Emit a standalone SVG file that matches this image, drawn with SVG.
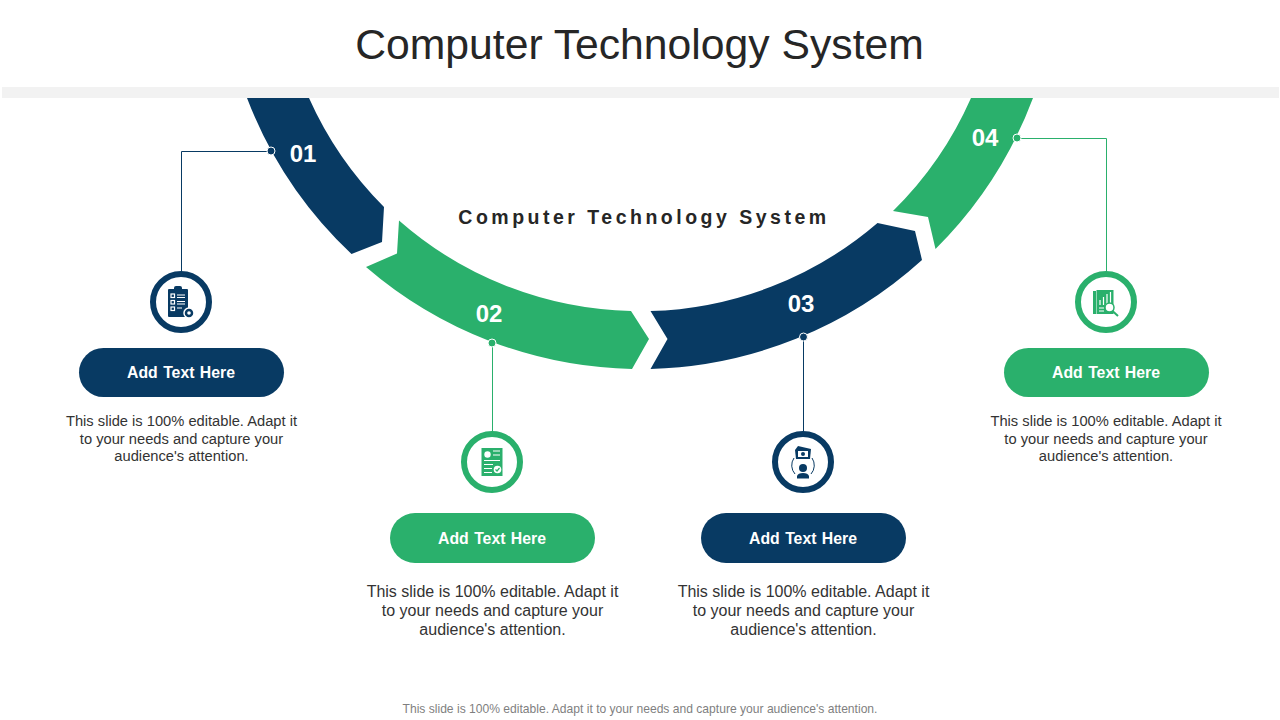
<svg xmlns="http://www.w3.org/2000/svg" width="1280" height="720" viewBox="0 0 1280 720">
<style>
text{font-family:"Liberation Sans",Arial,sans-serif}
.navy{fill:#083a63}.green{fill:#2ab06c}
.title{font-size:42.7px;fill:#262626;text-anchor:middle}
.sub{font-size:19.5px;font-weight:700;fill:#262626;letter-spacing:3.5px;text-anchor:middle}
.num{font-size:24px;font-weight:700;fill:#fff;text-anchor:middle}
.btn{font-size:15.8px;font-weight:700;fill:#fff;text-anchor:middle;word-spacing:1px}
.body{font-size:16px;fill:#333;text-anchor:middle}
.small{font-size:14.7px}
.foot{font-size:12.1px;fill:#7f7f7f;text-anchor:middle}
.ring{fill:#fff;stroke-width:6}
.wl{stroke:#fff;stroke-width:1.2;fill:none}
.ln{fill:none;stroke-width:1}
.dot{stroke:#fff;stroke-width:1}
</style>
<rect x="2" y="87" width="1277" height="11" fill="#f2f2f2"/>
<text class="title" x="639.500" y="58.500">Computer Technology System</text>
<text class="sub" x="644" y="224">Computer Technology System</text>
<g id="arcs">
<path id="seg1" class="navy" d="M247 98A421 421 0 0 0 351.500 254L382 242L384 207A364 364 0 0 1 309 98Z"/>
<path id="seg2" class="green" d="M366 267L397 253.500L399 220.500A364 364 0 0 0 631 311L649 339L632 369A421 421 0 0 1 366 267Z"/>
<path id="seg3" class="navy" d="M650.500 369L667.500 339L650.500 311A364 364 0 0 0 877.500 223L915 231L922 260A421 421 0 0 1 650.500 369Z"/>
<path id="seg4" class="green" d="M893 211L928 217L935.500 249A421 421 0 0 0 1033 98H971A364 364 0 0 1 893 211Z"/>
<text class="num" x="303" y="162">01</text>
<text class="num" x="489" y="322">02</text>
<text class="num" x="801" y="312">03</text>
<text class="num" x="985" y="146">04</text>
</g>
<g id="connectors">
<path class="ln" stroke="#083a63" d="M271 151.500H181.500V272"/>
<circle class="navy dot" cx="271" cy="151" r="4"/>
<path class="ln" stroke="#2ab06c" d="M492.500 343V432"/>
<circle class="green dot" cx="492" cy="343" r="4"/>
<path class="ln" stroke="#083a63" d="M803.500 337V432"/>
<circle class="navy dot" cx="803.500" cy="337" r="4"/>
<path class="ln" stroke="#2ab06c" d="M1017 138.500H1106.500V272"/>
<circle class="green dot" cx="1017" cy="138" r="4"/>
</g>
<g id="node1">
<circle class="ring" stroke="#083a63" cx="181" cy="302" r="28"/>
<rect class="navy" x="168" y="289" width="20" height="28" rx="1"/>
<rect class="navy" x="174" y="286" width="8" height="6" rx="2"/>
<g class="wl"><rect x="171" y="294" width="3.500" height="3.500"/><rect x="171" y="300.500" width="3.500" height="3.500"/><rect x="171" y="307" width="3.500" height="3.500"/><path d="M177 295H185M177 297.500H185M177 301.500H185M177 304H185M177 308H182"/></g>
<circle class="navy" cx="189" cy="313" r="5" stroke="#fff" stroke-width="1.500"/>
<circle cx="189" cy="313" r="1.800" fill="#fff"/>
<rect class="navy" x="79" y="348" width="205" height="49" rx="24.500"/>
<text class="btn" x="181" y="378">Add Text Here</text>
<text class="body small" x="181.500" y="426">This slide is 100% editable. Adapt it</text>
<text class="body small" x="181.500" y="444">to your needs and capture your</text>
<text class="body small" x="181.500" y="461">audience's attention.</text>
</g>
<g id="node2">
<circle class="ring" stroke="#2ab06c" cx="492" cy="462" r="28"/>
<rect class="green" x="481.500" y="448" width="21" height="28"/>
<circle cx="487.500" cy="454.500" r="3.200" fill="#fff"/>
<g class="wl"><path d="M493 451H500M493 455H500M484 460.500H500M484 464.500H493M484 468.500H492M484 472.500H492"/></g>
<circle cx="497.500" cy="469.500" r="3.800" fill="#fff"/>
<path d="M495.500 469.500L497 471L499.500 468" fill="none" stroke="#2ab06c" stroke-width="1.200"/>
<rect class="green" x="390" y="513" width="205" height="50" rx="25"/>
<text class="btn" x="492" y="544">Add Text Here</text>
<text class="body" x="492.500" y="597">This slide is 100% editable. Adapt it</text>
<text class="body" x="492.500" y="616">to your needs and capture your</text>
<text class="body" x="492.500" y="635">audience's attention.</text>
</g>
<g id="node3">
<circle class="ring" stroke="#083a63" cx="803" cy="462" r="28"/>
<path class="navy" d="M795 450L798 446L811 449L810 459L796 459Z"/>
<rect x="798" y="451" width="10" height="6" fill="#fff"/>
<circle class="navy" cx="803" cy="454" r="2"/>
<circle class="navy" cx="803" cy="468" r="4"/>
<path class="navy" d="M797 478.500V476Q798 473 803 473Q808 473 809 476V478.500Z"/>
<path fill="none" stroke="#083a63" d="M794 458A13 13 0 0 0 795 474M812 458A13 13 0 0 1 811 474"/>
<rect class="navy" x="701" y="513" width="205" height="50" rx="25"/>
<text class="btn" x="803" y="544">Add Text Here</text>
<text class="body" x="803.500" y="597">This slide is 100% editable. Adapt it</text>
<text class="body" x="803.500" y="616">to your needs and capture your</text>
<text class="body" x="803.500" y="635">audience's attention.</text>
</g>
<g id="node4">
<circle class="ring" stroke="#2ab06c" cx="1106" cy="302" r="28"/>
<rect class="green" x="1093" y="291" width="3" height="23"/>
<rect class="green" x="1096.500" y="290" width="17" height="24"/>
<g class="wl"><path d="M1100 300V305M1103.500 297V305M1107 294V305M1110.500 292V305M1099 308H1104M1099 311H1104"/></g>
<circle cx="1109.500" cy="307.500" r="4.500" fill="#fff" stroke="#2ab06c" stroke-width="1.500"/>
<path d="M1112.500 311L1118 316" stroke="#2ab06c" stroke-width="2"/>
<rect class="green" x="1004" y="348" width="205" height="49" rx="24.500"/>
<text class="btn" x="1106" y="378">Add Text Here</text>
<text class="body small" x="1106" y="426">This slide is 100% editable. Adapt it</text>
<text class="body small" x="1106" y="444">to your needs and capture your</text>
<text class="body small" x="1106" y="461">audience's attention.</text>
</g>
<text class="foot" x="640" y="713">This slide is 100% editable. Adapt it to your needs and capture your audience's attention.</text>
</svg>
